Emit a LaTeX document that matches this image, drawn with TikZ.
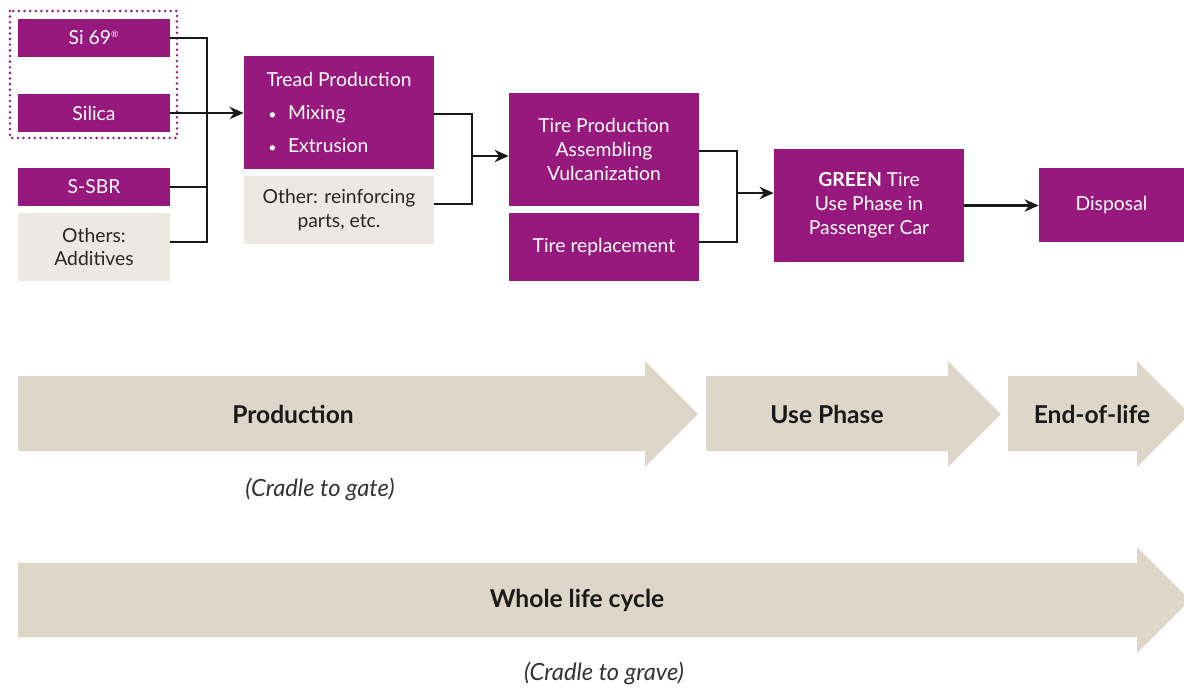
\documentclass[tikz,border=0pt]{standalone}
\usepackage{fontspec}
\setmainfont{Lato}
\usepackage{tikz}
\usetikzlibrary{arrows.meta}
\definecolor{tirecol}{RGB}{151,25,125}
\definecolor{othercol}{RGB}{236,232,226}
\definecolor{bandcol}{RGB}{222,214,200}

\begin{document}
\begin{tikzpicture}[x=0.02cm,y=-0.02cm,>={Stealth[length=8pt,width=7pt]},
  pbox/.style={fill=tirecol,text=white,align=center,inner sep=2pt,
    font=\fontsize{11}{13.6}\selectfont},
  obox/.style={fill=othercol,text=black!85,align=center,inner sep=2pt,
    font=\fontsize{11}{13.6}\selectfont},
  link/.style={line width=1.4pt,black!90},
  band/.style={fill=bandcol},
  phase/.style={font=\bfseries\fontsize{14}{17}\selectfont,text=black!90},
  note/.style={font=\itshape\fontsize{13.5}{16}\selectfont,text=black!80}]
\useasboundingbox (0,0) rectangle (1184,691);
% raw materials
\node[pbox,minimum width=3.04cm,minimum height=0.76cm] (si) at (94,38) {Si 69\textsuperscript{\tiny\textregistered}};
\node[pbox,minimum width=3.04cm,minimum height=0.76cm] (silica) at (94,113) {Silica};
\node[pbox,minimum width=3.04cm,minimum height=0.76cm] (ssbr) at (94,187) {S-SBR};
\node[obox,minimum width=3.04cm,minimum height=1.36cm] (others) at (94,247) {Others:\\ Additives};
\draw[tirecol,line width=1.6pt,line cap=round,dash pattern=on 0pt off 3.2pt]
  (10,11) rectangle (177,138);
% tread
\node[pbox,align=left,minimum width=3.8cm,minimum height=2.26cm] (tread) at (339,112.5)
  {Tread Production\\[5pt]\hspace*{1pt}{\footnotesize\textbullet}\hspace{0.6em}Mixing\\[5pt]\hspace*{1pt}{\footnotesize\textbullet}\hspace{0.6em}Extrusion};
\node[obox,minimum width=3.8cm,minimum height=1.36cm] (reinf) at (339,210) {Other: reinforcing\\ parts, etc.};
% tire
\node[pbox,minimum width=3.8cm,minimum height=2.26cm] (tirep) at (604,149.5) {Tire Production\\ Assembling\\ Vulcanization};
\node[pbox,minimum width=3.8cm,minimum height=1.36cm] (repl) at (604,247) {Tire replacement};
% use and end of life
\node[pbox,minimum width=3.8cm,minimum height=2.26cm] (green) at (869,205.5) {\textbf{GREEN} Tire\\ Use Phase in\\ Passenger Car};
\node[pbox,minimum width=2.9cm,minimum height=1.48cm] (disp) at (1111.5,205) {Disposal};

\coordinate (j1) at (207,113);
\coordinate (j2) at (472,156);
\coordinate (j3) at (737,193);
\draw[link] (si.east) -| (j1);
\draw[link] (ssbr.east) -| (j1);
\draw[link] ([yshift=2.8pt]others.east) -| (j1);
\draw[link,->] (silica.east) -- (tread.west |- silica.east);
\draw[link] ([yshift=-0.8pt]tread.east) -| (j2);
\draw[link] ([yshift=3.4pt]reinf.east) -| (j2);
\draw[link,->] (j2) -- (j2 -| tirep.west);
\draw[link] ([yshift=-0.8pt]tirep.east) -| (j3);
\draw[link] ([yshift=2.8pt]repl.east) -| (j3);
\draw[link,->] (j3) -- (j3 -| green.west);
\draw[link,->] (green.east) -- (green.east -| disp.west);

% life cycle bands
\fill[band] (18,376) -- (645,376) -- (645,361) -- (698,414) -- (645,467) -- (645,451) -- (18,451) -- cycle;
\fill[band] (706,376) -- (948,376) -- (948,361) -- (1001,414) -- (948,467) -- (948,451) -- (706,451) -- cycle;
\fill[band] (1008,376) -- (1137,376) -- (1137,361) -- (1190,414) -- (1137,467) -- (1137,451) -- (1008,451) -- cycle;
\fill[band] (18,563) -- (1137,563) -- (1137,547) -- (1190,600) -- (1137,653) -- (1137,637) -- (18,637) -- cycle;
\node[phase] (prod) at (293,414) {Production};
\node[phase] (use) at (827,414) {Use Phase};
\node[phase] (eol) at (1092,414) {End-of-life};
\node[phase] (whole) at (577,600) {Whole life cycle};
\node[note] (gate) at (320,489) {(Cradle to gate)};
\node[note] (grave) at (604,673) {(Cradle to grave)};
\end{tikzpicture}
\end{document}
